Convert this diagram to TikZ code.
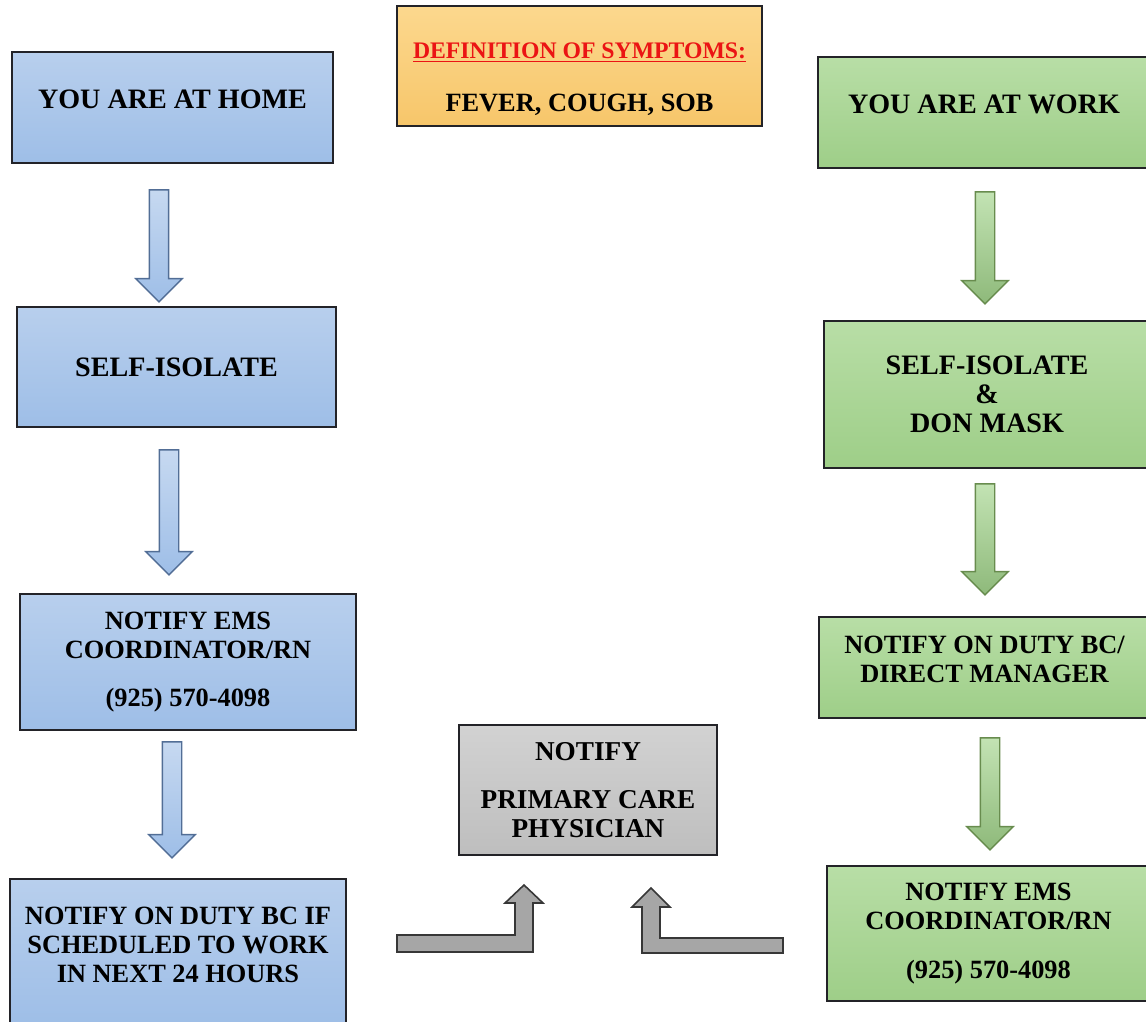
\documentclass[tikz,border=0pt]{standalone}
\usepackage{fontspec}
\setmainfont{Liberation Serif}
\definecolor{homeTop}{RGB}{184,207,237}
\definecolor{homeBot}{RGB}{158,190,231}
\definecolor{workTop}{RGB}{184,222,166}
\definecolor{workBot}{RGB}{158,206,136}
\definecolor{symTop}{RGB}{252,216,142}
\definecolor{symBot}{RGB}{247,198,106}
\definecolor{pcpTop}{RGB}{210,210,210}
\definecolor{pcpBot}{RGB}{190,190,190}
\definecolor{boxline}{RGB}{35,35,40}
\definecolor{homeArrow}{RGB}{82,110,150}
\definecolor{workArrow}{RGB}{104,140,78}
\definecolor{grayArrow}{RGB}{55,55,55}
\definecolor{symRed}{RGB}{235,20,20}
\usetikzlibrary{shapes.arrows,calc}

\begin{document}
\begin{tikzpicture}[x=0.02cm, y=-0.02cm,
  stepbox/.style={draw=boxline, line width=0.9pt, align=center, inner sep=2pt,
    font=\fontsize{15}{16.5}\selectfont\bfseries},
  bigbox/.style={font=\fontsize{16}{16.5}\selectfont\bfseries},
  homebox/.style={stepbox, top color=homeTop, bottom color=homeBot},
  workbox/.style={stepbox, top color=workTop, bottom color=workBot},
  downarrow/.style={single arrow, shape border rotate=270, inner sep=0.18cm,
    minimum width=0.9cm, single arrow head extend=0.27cm, line width=0.8pt},
  homearrow/.style={downarrow, draw=homeArrow, top color=homeTop!80!white, bottom color=homeBot},
  workarrow/.style={downarrow, draw=workArrow, top color=workTop!85!white, bottom color=workBot!90!black},
  grayarrow/.style={draw=grayArrow, fill=gray!70, line width=0.9pt, line join=miter}]
  \useasboundingbox (0,0) rectangle (1146,1021);

  % Symptoms
  \node[stepbox, top color=symTop, bottom color=symBot, minimum width=7.30cm, minimum height=2.40cm] (sympt) at (579.5,66)
    {\fontsize{13.5}{15}\selectfont\rule{0pt}{24pt}\textcolor{symRed}{\underline{DEFINITION OF SYMPTOMS:}}\\[14pt] FEVER, COUGH, SOB};

  % At home column
  \node[homebox, bigbox, minimum width=6.42cm, minimum height=2.22cm] (home) at (172.5,107.5)
    {YOU ARE AT HOME\rule[-10pt]{0pt}{0pt}};
  \node[homebox, bigbox, minimum width=6.38cm, minimum height=2.40cm] (iso1) at (176.5,367) {SELF-ISOLATE};
  \node[homebox, minimum width=6.72cm, minimum height=2.72cm] (ems1) at (188,662)
    {NOTIFY EMS\\COORDINATOR/RN\\[11pt](925) 570-4098};
  \node[homebox, minimum width=6.72cm, minimum height=2.92cm] (duty1) at (178,952)
    {NOTIFY ON DUTY BC IF\\SCHEDULED TO WORK\\IN NEXT 24 HOURS\rule[-8pt]{0pt}{0pt}};

  % At work column
  \node[workbox, bigbox, minimum width=6.64cm, minimum height=2.22cm] (work) at (984,112.5)
    {YOU ARE AT WORK\rule[-9pt]{0pt}{0pt}};
  \node[workbox, bigbox, minimum width=6.52cm, minimum height=2.94cm] (iso2) at (987,394.5)
    {SELF-ISOLATE\\\&\\DON MASK};
  \node[workbox, minimum width=6.62cm, minimum height=2.02cm] (duty2) at (984.5,667.5)
    {NOTIFY ON DUTY BC/\\DIRECT MANAGER\rule[-9pt]{0pt}{0pt}};
  \node[workbox, minimum width=6.46cm, minimum height=2.70cm] (ems2) at (988.5,933.5)
    {NOTIFY EMS\\COORDINATOR/RN\\[11pt](925) 570-4098};

  % Physician
  \node[stepbox, top color=pcpTop, bottom color=pcpBot, minimum width=5.16cm, minimum height=2.60cm,
    font=\fontsize{15.5}{16.5}\selectfont\bfseries] (pcp) at (588,790)
    {NOTIFY\\[11pt]PRIMARY CARE\\PHYSICIAN};

  % Down arrows
  \node[homearrow, minimum height=2.24cm] (a1) at (159,241) {};
  \node[homearrow, minimum height=2.50cm] (a2) at (169,507.5) {};
  \node[homearrow, minimum height=2.32cm] (a3) at (172,795) {};
  \node[workarrow, minimum height=2.24cm] (b1) at (985,243) {};
  \node[workarrow, minimum height=2.22cm] (b2) at (985,534.5) {};
  \node[workarrow, minimum height=2.24cm] (b3) at (990,789) {};

  % Bent arrows into physician box
  \coordinate (lstart) at (397,943.5);
  \coordinate (rstart) at (783,945.5);
  \draw[grayarrow] (lstart) ++(0,-8.5) -- ++(118,0) -- ++(0,-32) -- ++(-10,0) -- ++(19,-18)
    -- ++(19,18) -- ++(-10,0) -- ++(0,49) -- ++(-136,0) -- cycle;
  \draw[grayarrow] (rstart) ++(0,-7.5) -- ++(-123,0) -- ++(0,-31) -- ++(10,0) -- ++(-19,-19)
    -- ++(-19,19) -- ++(10,0) -- ++(0,46) -- ++(141,0) -- cycle;
\end{tikzpicture}
\end{document}
